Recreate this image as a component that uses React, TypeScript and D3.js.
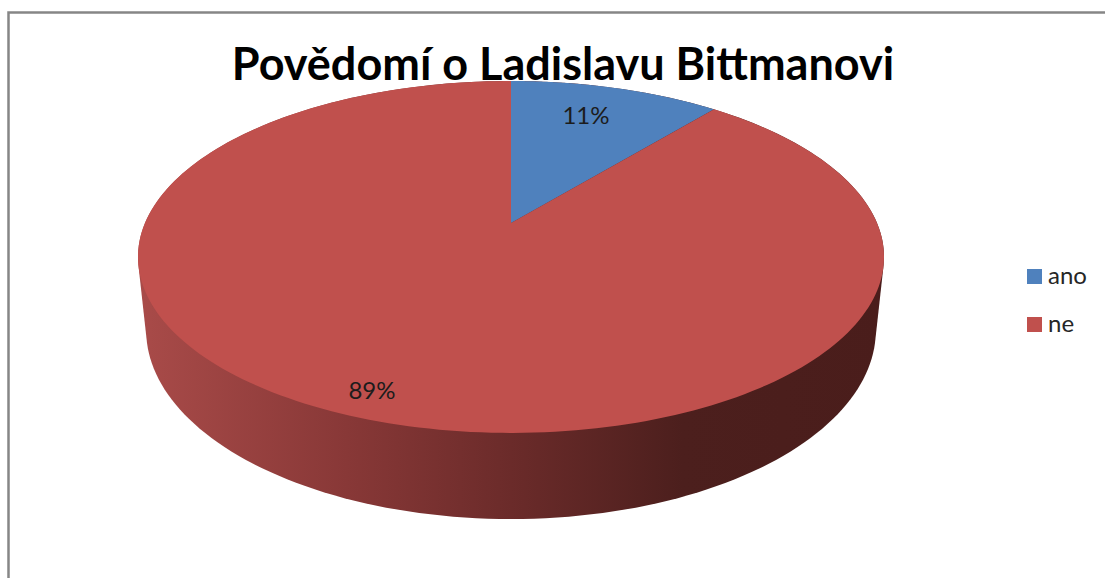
import React from "react";
import * as d3 from "d3";

const titleText = "Povědomí o Ladislavu Bittmanovi";
const categories = ["ano", "ne"];
const shares = [11, 89];
const sliceColors = ["#4f81bd", "#c0504d"];
const sideStops = [
  ["0", "#a94b49"],
  ["0.28", "#883837"],
  ["0.5", "#6b2b2a"],
  ["0.73", "#4c1f1d"],
  ["1", "#4a1d1b"],
];

const cx = 511;
const apexY = 223;
const k = 0.193;
const topA = 366;
const topB = 169.4;
const baseA = 358;
const baseB = 182;
const baseY = 293.5;

function project(theta: number, a: number, b: number, y0: number): [number, number] {
  const w = 1 + k * Math.cos(theta);
  return [cx + (a * Math.sin(theta)) / w, y0 - (b * Math.cos(theta)) / w];
}
const top = (t: number) => project(t, topA, topB, apexY);
const base = (t: number) => project(t, baseA, baseB, baseY);

const line = d3.line();
const arcPoints = (start: number, end: number, fn: (t: number) => [number, number]) =>
  d3.range(0, 241).map((i) => fn(start + ((end - start) * i) / 240));

const font = "Lato, 'Open Sans', sans-serif";

export default function App() {
  const arcs = d3.pie<number>().sort(null)(shares);
  const hull = d3.polygonHull([
    ...arcPoints(0, 2 * Math.PI, top),
    ...arcPoints(0, 2 * Math.PI, base),
  ]) as [number, number][];
  const sidePath = line(hull) + "Z";
  const labelPos: [number, number][] = [[586, 124], [372, 399]];

  return (
    <svg
      width={1105}
      height={578}
      style={{ position: "absolute", left: 0, top: 0, background: "#fff", display: "block" }}
    >
      <defs>
        <linearGradient id="side" gradientUnits="userSpaceOnUse" x1={138} x2={884} y1={0} y2={0}>
          {sideStops.map(([o, c]) => (
            <stop key={o} offset={o} stopColor={c} />
          ))}
        </linearGradient>
      </defs>
      <path d="M8.5 578V12.5H1105" fill="none" stroke="#868686" strokeWidth={2.5} />
      <path d={sidePath} fill="url(#side)" />
      {arcs.map((a, i) => {
        const pts = arcPoints(a.startAngle, a.endAngle, top);
        return (
          <path
            key={categories[i]}
            d={line([[cx, apexY], ...pts]) + "Z"}
            fill={sliceColors[i]}
          />
        );
      })}
      <text
        x={563}
        y={80}
        textAnchor="middle"
        fontFamily={font}
        fontWeight={700}
        fontSize={45}
        fill="#000"
      >
        {titleText}
      </text>
      {shares.map((s, i) => (
        <text
          key={i}
          x={labelPos[i][0]}
          y={labelPos[i][1]}
          textAnchor="middle"
          fontFamily={font}
          fontSize={24}
          fill="#1c1c1c"
        >
          {s}%
        </text>
      ))}
      {categories.map((c, i) => (
        <g key={c}>
          <rect x={1027} y={269 + i * 48} width={15} height={15} fill={sliceColors[i]} />
          <text x={1048} y={284 + i * 48} fontFamily={font} fontSize={24} fill="#262626">
            {c}
          </text>
        </g>
      ))}
    </svg>
  );
}
